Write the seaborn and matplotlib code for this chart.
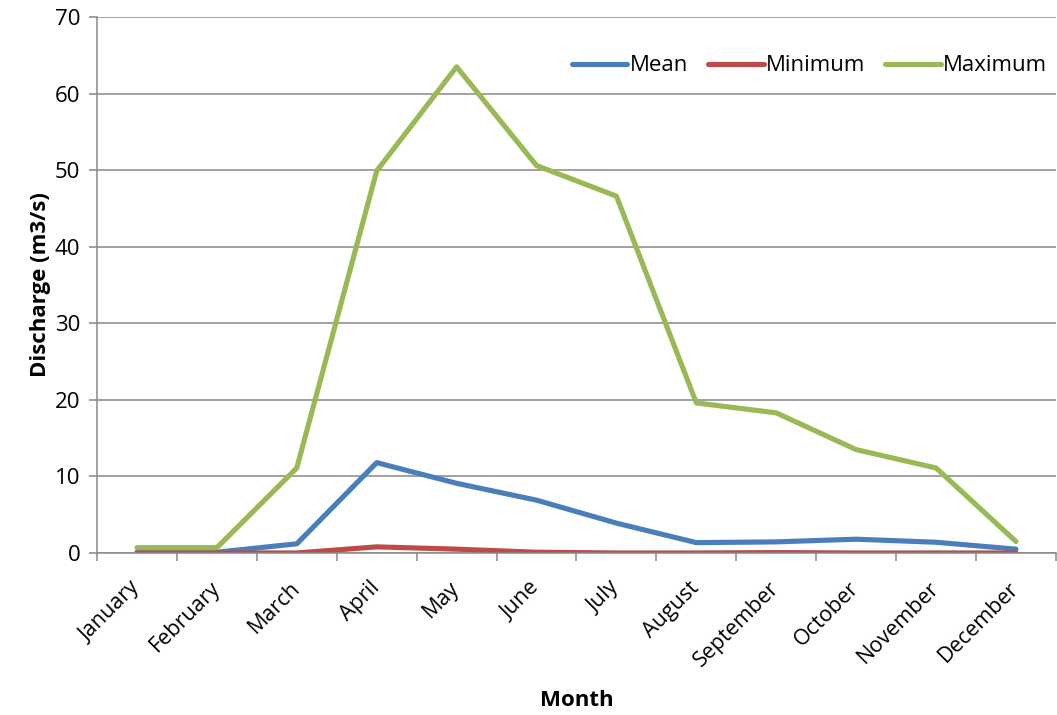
import matplotlib
matplotlib.use("Agg")
import matplotlib.pyplot as plt
import numpy as np
import pandas as pd
import seaborn as sns

months = ["January", "February", "March", "April", "May", "June", "July",
          "August", "September", "October", "November", "December"]
mean_q = [0.1, 0.1, 1.2, 11.8, 9.1, 6.9, 3.9, 1.35, 1.45, 1.8, 1.4, 0.5]
min_q = [0.0, 0.0, 0.0, 0.8, 0.5, 0.1, 0.0, 0.0, 0.05, 0.0, 0.0, 0.0]
max_q = [0.7, 0.7, 11.1, 49.9, 63.5, 50.6, 46.6, 19.6, 18.3, 13.5, 11.1, 1.5]
series_names = ["Mean", "Minimum", "Maximum"]
colors = ["#4A7EBB", "#BE4B48", "#98B954"]

df = pd.DataFrame({
    "Month": months * 3,
    "Discharge": mean_q + min_q + max_q,
    "Series": [s for s in series_names for _ in months],
})

sns.set_theme(style="white")
plt.rcParams["font.family"] = ["Open Sans", "DejaVu Sans"]
plt.rcParams["text.color"] = "black"
plt.rcParams["xtick.color"] = "black"
plt.rcParams["ytick.color"] = "black"
plt.rcParams["axes.labelcolor"] = "black"

fig = plt.figure(figsize=(10.57, 7.15), dpi=100)
ax = fig.add_axes([0.0918, 0.2266, 0.9072, 0.7496])

sns.lineplot(data=df, x="Month", y="Discharge", hue="Series",
             hue_order=series_names, palette=colors, sort=False,
             linewidth=3.7, ax=ax, solid_capstyle="round")

ax.set_xlim(-0.5, len(months) - 0.5)
ax.set_ylim(0, 70)
ax.set_yticks(np.arange(0, 71, 10))
ax.yaxis.grid(True, color="#888888", linewidth=1.1)
ax.xaxis.grid(False)

# category labels at centers, tick marks at category boundaries
ax.set_xticks(np.arange(len(months)))
ax.set_xticklabels(months, rotation=45, ha="right", va="center",
                   rotation_mode="anchor", fontsize=15.5)
ax.set_xticks(np.arange(-0.5, len(months), 1.0), minor=True)
ax.tick_params(axis="x", which="major", length=0, pad=23)
ax.tick_params(axis="x", which="minor", length=6, width=1.1,
               color="#888888", direction="out", bottom=True)
ax.tick_params(axis="y", length=6, width=1.1, color="#888888",
               direction="out", left=True, labelsize=16, pad=6,
               labelcolor="black")
ax.tick_params(axis="x", labelcolor="black")

for side in ["top", "right"]:
    ax.spines[side].set_visible(False)
for side in ["left", "bottom"]:
    ax.spines[side].set_color("#888888")
    ax.spines[side].set_linewidth(1.1)

ax.set_xlabel("Month", fontsize=16, fontweight="bold")
ax.xaxis.set_label_coords(0.5, -0.256)
ax.set_ylabel("Discharge (m3/s)", fontsize=16, fontweight="bold", labelpad=3)

leg = ax.legend(loc="upper right", ncol=3, frameon=False, fontsize=16,
                handlelength=2.5, handletextpad=0.1, columnspacing=0.9,
                bbox_to_anchor=(1.0, 0.945), borderaxespad=0.0)
for text in leg.get_texts():
    text.set_color("black")

fig.savefig("out.png", dpi=100)
